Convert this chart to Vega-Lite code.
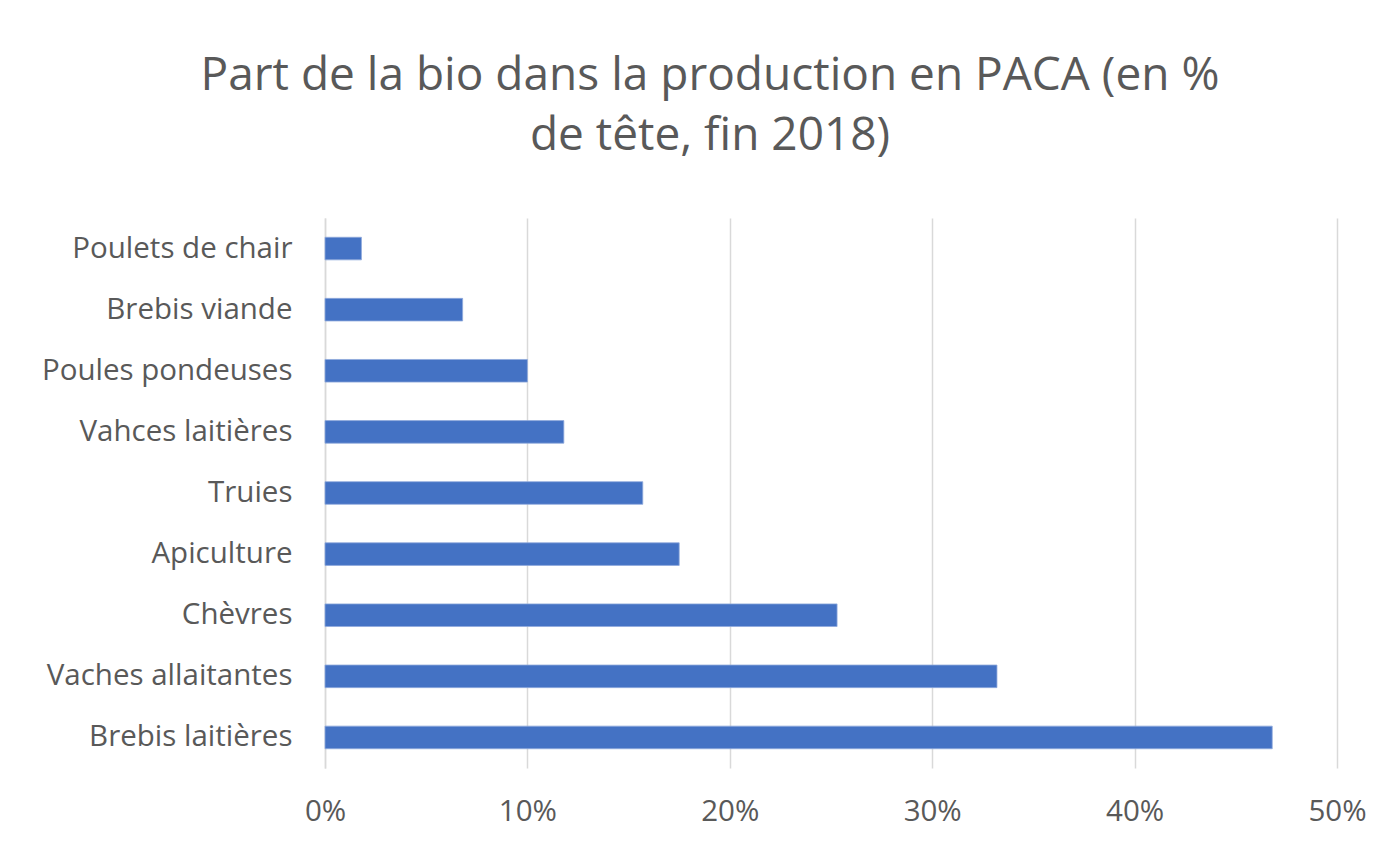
{
  "$schema": "https://vega.github.io/schema/vega-lite/v6.json",
  "width": 1012,
  "height": 550,
  "autosize": "none",
  "padding": {"left": 325, "top": 218, "right": 60, "bottom": 83},
  "background": "white",
  "title": {
    "text": ["Part de la bio dans la production en PACA (en %", "de tête, fin 2018)"],
    "font": "Open Sans",
    "fontSize": 46,
    "fontWeight": "normal",
    "color": "#595959",
    "lineHeight": 60,
    "anchor": "middle",
    "dx": -121,
    "offset": 58
  },
  "data": {
    "values": [
      {"categorie": "Poulets de chair", "part": 0.018},
      {"categorie": "Brebis viande", "part": 0.068},
      {"categorie": "Poules pondeuses", "part": 0.100},
      {"categorie": "Vahces laitières", "part": 0.118},
      {"categorie": "Truies", "part": 0.157},
      {"categorie": "Apiculture", "part": 0.175},
      {"categorie": "Chèvres", "part": 0.253},
      {"categorie": "Vaches allaitantes", "part": 0.332},
      {"categorie": "Brebis laitières", "part": 0.468}
    ]
  },
  "mark": {"type": "bar", "color": "#4472C4", "stroke": "#8fa9dc", "strokeWidth": 0.8},
  "encoding": {
    "y": {
      "field": "categorie",
      "type": "nominal",
      "sort": null,
      "scale": {"paddingInner": 0.63, "paddingOuter": 0.315},
      "axis": {
        "title": null,
        "ticks": false,
        "domain": true,
        "domainColor": "#d9d9d9",
        "domainWidth": 1.5,
        "labelFont": "Open Sans",
        "labelFontSize": 29.5,
        "labelColor": "#595959",
        "labelPadding": 33,
        "labelLimit": 400
      }
    },
    "x": {
      "field": "part",
      "type": "quantitative",
      "scale": {"domain": [0, 0.5], "nice": false},
      "axis": {
        "title": null,
        "format": ".0%",
        "values": [0, 0.1, 0.2, 0.3, 0.4, 0.5],
        "ticks": false,
        "domain": false,
        "grid": true,
        "gridColor": "#d9d9d9",
        "gridWidth": 1.5,
        "labelFlush": false,
        "labelOverlap": false,
        "labelFont": "Open Sans",
        "labelFontSize": 29.5,
        "labelColor": "#595959",
        "labelPadding": 29
      }
    }
  },
  "config": {"view": {"stroke": null}}
}
